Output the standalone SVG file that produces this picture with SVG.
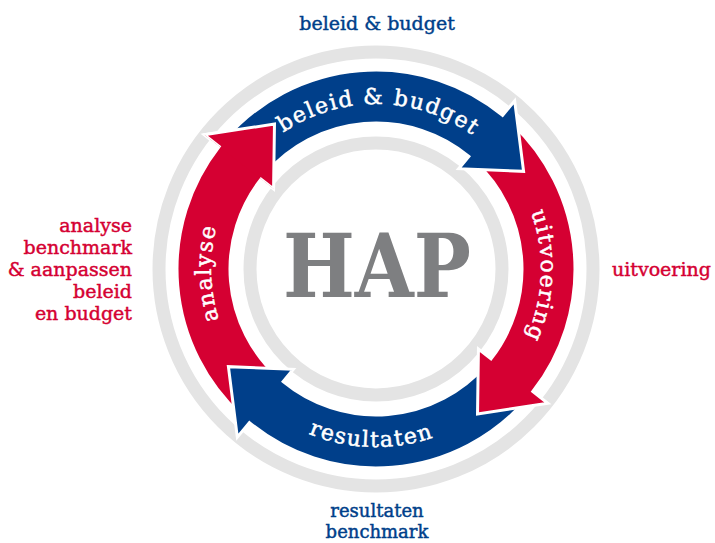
<svg xmlns="http://www.w3.org/2000/svg" xmlns:xlink="http://www.w3.org/1999/xlink" width="715" height="543" viewBox="0 0 715 543">
<style>
.ring{fill:none;stroke:#e4e4e4;stroke-width:13}
.arrow{stroke:#fff;stroke-width:3;stroke-linejoin:miter}
.blue{fill:#003f8a}
.red{fill:#d50032}
.atext{font-family:"DejaVu Serif",serif;font-size:22px;fill:#fff;stroke:#fff;stroke-width:0.5px;letter-spacing:1.5px}
.lbl{font-family:"DejaVu Serif",serif;font-size:19px;stroke-width:0.45px}
.lblue{fill:#003f8a;stroke:#003f8a}
.lred{fill:#d50032;stroke:#d50032}
</style>
<defs>
<path id="pA4" d="M241.56 415.72 A199 199 0 0 1 219.19 146.48 L204.21 134.79 L274.48 124.01 L273.56 188.96 L260.95 179.11 A146 146 0 0 0 277.36 376.64 Z"/>
<path id="tTop" d="M234.57 184.02 A165 165 0 0 1 520.31 189.01"/>
<path id="tRight" d="M464.41 129.69 A165 165 0 0 1 452.44 415.22"/>
<path id="tLeft" d="M297.02 413.87 A165 165 0 0 1 290.03 128.16"/>
<path id="tBottom" d="M219.42 353.66 A178 178 0 0 0 527.61 362.27"/>
<clipPath id="c4"><polygon points="376,269 60.8,22.7 239.2,-106.9 445.5,-124.9"/></clipPath>
</defs>
<g id="rings">
<circle class="ring" cx="376" cy="269" r="217"/>
<circle class="ring" cx="376" cy="269" r="126"/>
</g>
<g id="hap">
<text x="377" y="297" text-anchor="middle" textLength="188" lengthAdjust="spacingAndGlyphs" font-family="DejaVu Serif, serif" font-weight="bold" font-size="88" fill="#7e7f81">HAP</text>
</g>
<g id="connectors">
<g id="analyse">
<use xlink:href="#pA4" class="arrow red"/>
<text class="atext"><textPath xlink:href="#tLeft" startOffset="50%" text-anchor="middle">analyse</textPath></text>
</g>
<g id="resultaten">
<path class="arrow blue" d="M526.19 399.56 A199 199 0 0 1 249.42 422.55 L237.33 437.21 L228.40 366.69 L293.31 369.31 L283.13 381.66 A146 146 0 0 0 486.19 364.78 Z"/>
<text class="atext"><textPath xlink:href="#tBottom" startOffset="50%" text-anchor="middle">resultaten</textPath></text>
</g>
<g id="uitvoering">
<path class="arrow red" d="M511.72 123.46 A199 199 0 0 1 532.81 391.52 L547.79 403.21 L477.52 413.99 L478.44 349.04 L491.05 358.89 A146 146 0 0 0 475.57 162.22 Z"/>
<text class="atext"><textPath xlink:href="#tRight" startOffset="50%" text-anchor="middle">uitvoering</textPath></text>
</g>
<g id="beleid">
<path class="arrow blue" d="M225.81 138.44 A199 199 0 0 1 502.58 115.45 L514.67 100.79 L523.60 171.31 L458.69 168.69 L468.87 156.34 A146 146 0 0 0 265.81 173.22 Z"/>
<text class="atext"><textPath xlink:href="#tTop" startOffset="50%" text-anchor="middle">beleid &amp; budget</textPath></text>
</g>
<use xlink:href="#pA4" class="arrow red" clip-path="url(#c4)"/>
</g>
<g id="label-top">
<text class="lbl lblue" x="377" y="30" text-anchor="middle">beleid &amp; budget</text>
</g>
<g id="label-right">
<text class="lbl lred" x="612" y="276">uitvoering</text>
</g>
<g id="label-left">
<text class="lbl lred" text-anchor="end"><tspan x="132" y="232">analyse</tspan><tspan x="132" y="254">benchmark</tspan><tspan x="132" y="276">&amp; aanpassen</tspan><tspan x="132" y="298">beleid</tspan><tspan x="132" y="320">en budget</tspan></text>
</g>
<g id="label-bottom">
<text class="lbl lblue" text-anchor="middle" style="font-size:18px"><tspan x="377" y="517">resultaten</tspan><tspan x="377" y="538">benchmark</tspan></text>
</g>
</svg>
